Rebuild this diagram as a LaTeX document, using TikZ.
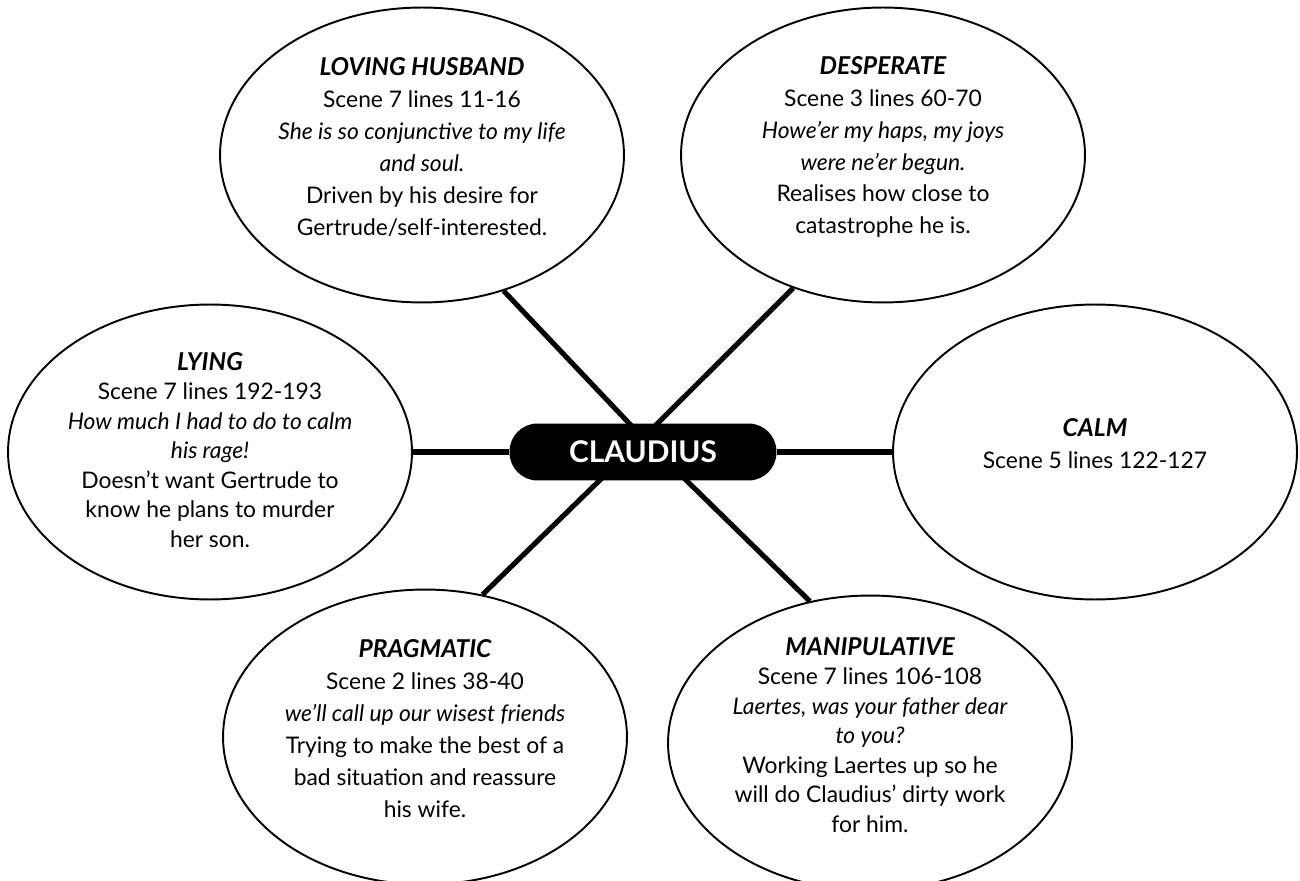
\documentclass[tikz,border=0pt]{standalone}
\usepackage{fontspec}
\setmainfont{Lato}
\usetikzlibrary{shapes.geometric,backgrounds}

\newcommand{\trait}[1]{{\fontsize{14}{18.2}\selectfont\bfseries\itshape #1}}

\begin{document}
\begin{tikzpicture}[x=0.02cm,y=-0.02cm,
  every node/.style={font=\fontsize{13}{18.2}\selectfont},
  bubble/.style={draw,ellipse,line width=1.1pt,fill=white,inner sep=0pt,
    minimum width=8.08cm,minimum height=5.9cm},
  txt/.style={align=center,inner sep=0pt,yshift=0.16cm},
  tight/.style={font=\fontsize{13}{16.8}\selectfont},
  spoke/.style={line width=2.9pt}]
  \useasboundingbox (0,0) rectangle (1300,881);

  % centre
  \node[fill=black,text=white,rounded corners=0.56cm,minimum width=5.34cm,minimum height=1.14cm,
    font=\fontsize{17}{18}\selectfont\bfseries] (claudius) at (643,452) {CLAUDIUS};
  \coordinate (hub) at (643,438);

  % traits
  \node[bubble,label={[txt]center:{\trait{LOVING HUSBAND}\\Scene 7 lines 11-16\\
    \textit{She is so conjunctive to my life}\\\textit{and soul.}\\Driven by his desire for\\Gertrude/self-interested.}}]
    (loving) at (422,155) {};
  \node[bubble,label={[txt]center:{\trait{DESPERATE}\\Scene 3 lines 60-70\\
    \textit{Howe’er my haps, my joys}\\\textit{were ne’er begun.}\\Realises how close to\\catastrophe he is.}}]
    (desperate) at (883,155) {};
  \node[bubble,label={[txt,tight,yshift=-0.12cm]center:{\trait{LYING}\\Scene 7 lines 192-193\\
    \textit{How much I had to do to calm}\\\textit{his rage!}\\Doesn’t want Gertrude to\\know he plans to murder\\her son.}}]
    (lying) at (210,452) {};
  \node[bubble,label={[txt]center:{\trait{CALM}\\Scene 5 lines 122-127}}]
    (calm) at (1095,452) {};
  \node[bubble,label={[txt]center:{\trait{PRAGMATIC}\\Scene 2 lines 38-40\\
    \textit{we’ll call up our wisest friends}\\Trying to make the best of a\\bad situation and reassure\\his wife.}}]
    (pragmatic) at (425,737) {};
  \node[bubble,label={[txt,tight]center:{\trait{MANIPULATIVE}\\Scene 7 lines 106-108\\
    \textit{Laertes, was your father dear}\\\textit{to you?}\\Working Laertes up so he\\will do Claudius’ dirty work\\for him.}}]
    (manip) at (870,743) {};

  % spokes
  \begin{scope}[on background layer]
    \draw[spoke] (hub) -- (loving.-59);
    \draw[spoke] (hub) -- (desperate.236);
    \draw[spoke] (hub) -- (pragmatic.68);
    \draw[spoke] (hub) -- (manip.113);
    \draw[spoke] (lying.east) -- (claudius.west);
    \draw[spoke] (claudius.east) -- (calm.west);
  \end{scope}
\end{tikzpicture}
\end{document}
